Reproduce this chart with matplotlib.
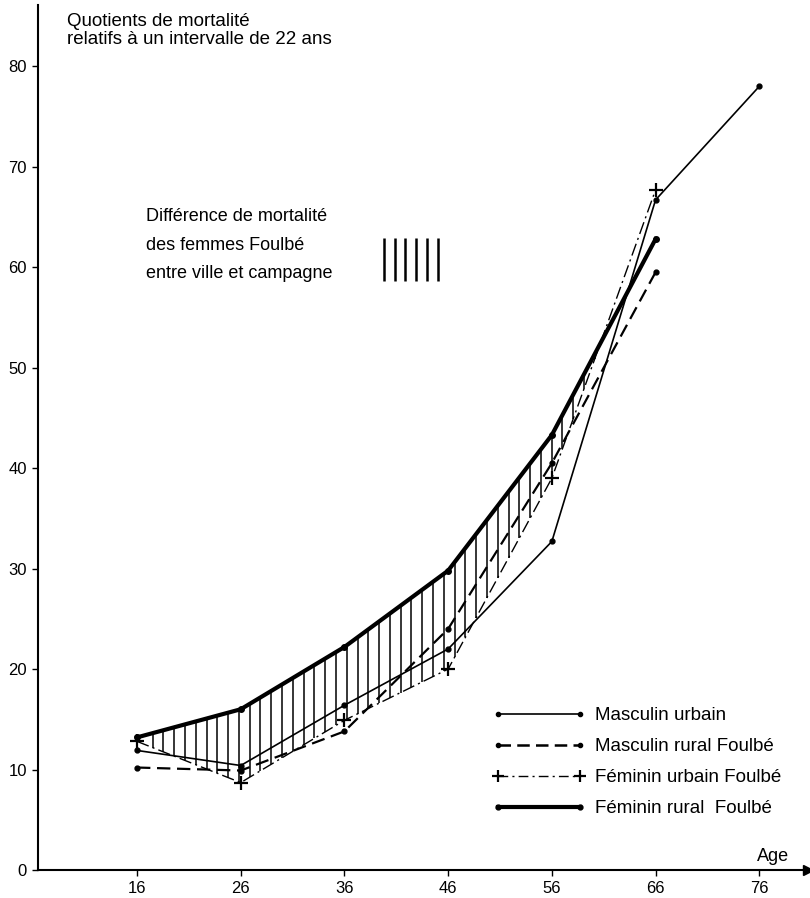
# Quotients de mortalité par âge, Foulbé ville / campagne

import numpy as np
import matplotlib
matplotlib.use("Agg")
import matplotlib.pyplot as plt
from matplotlib.lines import Line2D

plt.rcParams['font.family'] = ['Liberation Sans', 'DejaVu Sans']

# Data
ages = [16, 26, 36, 46, 56, 66]
ages_mu = [16, 26, 36, 46, 56, 66, 76]
masc_urbain = [11.9, 10.4, 16.4, 22.0, 32.7, 66.7, 78.0]
masc_rural = [10.2, 9.9, 13.8, 24.0, 40.5, 59.5]
fem_urbain = [12.8, 8.7, 14.9, 20.0, 39.0, 67.7]
fem_rural = [13.2, 16.0, 22.2, 29.8, 43.3, 62.8]

xticks = [16, 26, 36, 46, 56, 66, 76]
yticks = [0, 10, 20, 30, 40, 50, 60, 70, 80]

labels = ["Masculin urbain", "Masculin rural Foulbé",
          "Féminin urbain Foulbé", "Féminin rural  Foulbé"]

W, H = 810, 898
fig = plt.figure(figsize=(W / 100, H / 100), dpi=100)
# axes box in pixels: left 38, right 808, bottom at 870 from top, top at 5
ax = fig.add_axes([38 / W, 28 / H, (808 - 38) / W, (870 - 5) / H])
ax.set_xlim(6.45, 80.7)
ax.set_ylim(0, 86.1)

for s in ['top', 'right']:
    ax.spines[s].set_visible(False)
for s in ['left', 'bottom']:
    ax.spines[s].set_linewidth(1.5)
    ax.spines[s].set_color('black')

# axis arrows
ax.plot(1, 0, marker='>', color='k', ms=7, transform=ax.get_yaxis_transform(), clip_on=False)
ax.plot(0, 1, marker='^', color='k', ms=7, transform=ax.get_xaxis_transform(), clip_on=False)

ax.set_xticks(xticks)
ax.set_yticks(yticks)
ax.tick_params(axis='both', direction='out', length=4, width=1, labelsize=12, pad=4)

# hatching between the two female curves
hx = np.arange(17.5, 60.6, 1.04)
top = np.interp(hx, ages, fem_rural)
bot = np.interp(hx, ages, fem_urbain)
keep = top - bot > 0.4
ax.vlines(hx[keep], bot[keep], top[keep], color='k', lw=1.1)

# curves
ax.plot(ages_mu, masc_urbain, color='k', lw=1.2, marker='o', ms=3.5)
ax.plot(ages, masc_rural, color='k', lw=1.6, ls=(0, (6, 3)), marker='o', ms=3.5)
ax.plot(ages, fem_urbain, color='k', lw=1.0, ls=(0, (9, 3, 1.5, 3)), marker='+', ms=10, mew=1.6)
ax.plot(ages, fem_rural, color='k', lw=3.0, marker='o', ms=4)

# texts
fig.text(67 / W, 1 - 13 / H, "Quotients de mortalité\nrelatifs à un intervalle de 22 ans",
         fontsize=13.5, va='top', ha='left', linespacing=1.1)
ax.text(77.3, 1.3, "Age", fontsize=13, ha='center', va='center')

ax.text(16.9, 65.0, "Différence de mortalité", fontsize=13, va='center')
ax.text(16.9, 62.2, "des femmes Foulbé", fontsize=13, va='center')
ax.text(16.9, 59.4, "entre ville et campagne", fontsize=13, va='center')
ax.vlines(np.linspace(39.8, 45.0, 6), 58.6, 62.9, color='k', lw=1.8)

handles = [
    Line2D([], [], color='k', lw=1.2, marker='o', ms=3),
    Line2D([], [], color='k', lw=1.8, ls=(0, (5, 2.5)), marker='o', ms=3),
    Line2D([], [], color='k', lw=1.0, ls=(0, (7, 3, 1.5, 3)), marker='+', ms=9, mew=1.6),
    Line2D([], [], color='k', lw=3.0, marker='o', ms=3.5),
]
fig.legend(handles, labels, loc='upper left', bbox_to_anchor=(492 / W, 1 - 707 / H),
           frameon=False, numpoints=2, fontsize=13.5, handlelength=5.0,
           handletextpad=0.5, labelspacing=0.74, borderpad=0, borderaxespad=0)

fig.savefig("out.png", dpi=100, facecolor='white')
